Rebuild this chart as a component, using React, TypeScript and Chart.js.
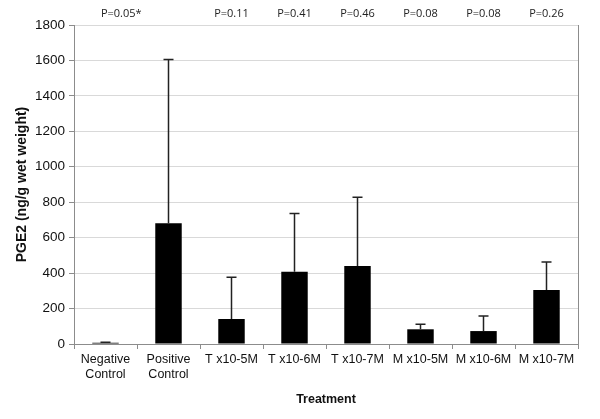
import React, { useEffect, useRef } from "react";
import { Chart, registerables } from "chart.js";

Chart.register(...registerables);

const categories: (string | string[])[] = [
  ["Negative", "Control"],
  ["Positive", "Control"],
  "T x10-5M",
  "T x10-6M",
  "T x10-7M",
  "M x10-5M",
  "M x10-6M",
  "M x10-7M",
];
const means = [7, 681, 141, 408, 440, 83, 73, 305];
const sd = [3, 924, 235, 329, 388, 28, 85, 158];
const pLabels = ["P=0.05*", "P=0.11", "P=0.41", "P=0.46", "P=0.08", "P=0.08", "P=0.26"];
const pPositions = [0.25, 2, 3, 4, 5, 6, 7];
const yTicks = [0, 200, 400, 600, 800, 1000, 1200, 1400, 1600, 1800];

const extrasPlugin = {
  id: "extras",
  afterDatasetsDraw(chart: any) {
    const { ctx, chartArea, scales } = chart;
    const x = scales.x;
    const y = scales.y;
    ctx.save();
    // error bars
    ctx.strokeStyle = "#222";
    ctx.lineWidth = 1.5;
    means.forEach((m, i) => {
      const px = x.getPixelForValue(i);
      const top = y.getPixelForValue(m + sd[i]);
      const base = y.getPixelForValue(m);
      ctx.beginPath();
      ctx.moveTo(px, base);
      ctx.lineTo(px, top);
      ctx.moveTo(px - 5, top);
      ctx.lineTo(px + 5, top);
      ctx.stroke();
    });
    // right border
    ctx.strokeStyle = "#8c8c8c";
    ctx.lineWidth = 1;
    ctx.beginPath();
    ctx.moveTo(chartArea.right + 0.5, chartArea.top);
    ctx.lineTo(chartArea.right + 0.5, chartArea.bottom);
    ctx.stroke();
    // p labels
    ctx.fillStyle = "#222";
    ctx.font = "11px 'Open Sans'";
    ctx.textAlign = "center";
    ctx.textBaseline = "middle";
    pLabels.forEach((t, i) => {
      ctx.fillText(t, x.getPixelForValue(pPositions[i]), 14);
    });
    ctx.restore();
  },
};

export default function App() {
  const ref = useRef<HTMLCanvasElement>(null);
  useEffect(() => {
    document.body.style.margin = "0";
    const chart = new Chart(ref.current!, {
      type: "bar",
      data: {
        labels: categories as any,
        datasets: [
          {
            data: means,
            backgroundColor: "#000",
            borderWidth: 0,
            barPercentage: 0.42,
            categoryPercentage: 1,
          },
        ],
      },
      options: {
        animation: false,
        responsive: false,
        maintainAspectRatio: false,
        layout: { padding: { top: 25, right: 22, left: 0, bottom: 0 } },
        plugins: { legend: { display: false }, tooltip: { enabled: false } },
        scales: {
          x: {
            afterFit: (s: any) => {
              s.height = 75;
            },
            grid: {
              offset: true,
              drawOnChartArea: false,
              tickLength: 5,
              color: "#8c8c8c",
            },
            border: { color: "#8c8c8c" },
            ticks: {
              color: "#111",
              font: { family: "'Liberation Sans', Arial", size: 12.5 },
              maxRotation: 0,
              autoSkip: false,
              padding: 3,
            },
            title: {
              display: true,
              text: "Treatment",
              color: "#111",
              font: { family: "'Liberation Sans', Arial", size: 12.5, weight: "bold" },
              padding: { top: 0, bottom: 12 },
            },
          },
          y: {
            min: 0,
            max: 1800,
            afterFit: (s: any) => {
              s.width = 74;
            },
            afterBuildTicks: (s: any) => {
              s.ticks = yTicks.map((v) => ({ value: v }));
            },
            grid: {
              color: "#d9d9d9",
              tickColor: "#8c8c8c",
              tickLength: 5,
            },
            border: { color: "#8c8c8c" },
            ticks: {
              color: "#111",
              font: { family: "'Liberation Sans', Arial", size: 13.5 },
              padding: 4,
              callback: (v: any) => String(v),
            },
            title: {
              display: true,
              text: "PGE2 (ng/g wet weight)",
              color: "#111",
              font: { family: "'Liberation Sans', Arial", size: 14, weight: "bold" },
              padding: { top: 14, bottom: 0 },
            },
          },
        },
      },
      plugins: [extrasPlugin],
    });
    return () => chart.destroy();
  }, []);
  return <canvas ref={ref} width={600} height={419} style={{ display: "block" }} />;
}
